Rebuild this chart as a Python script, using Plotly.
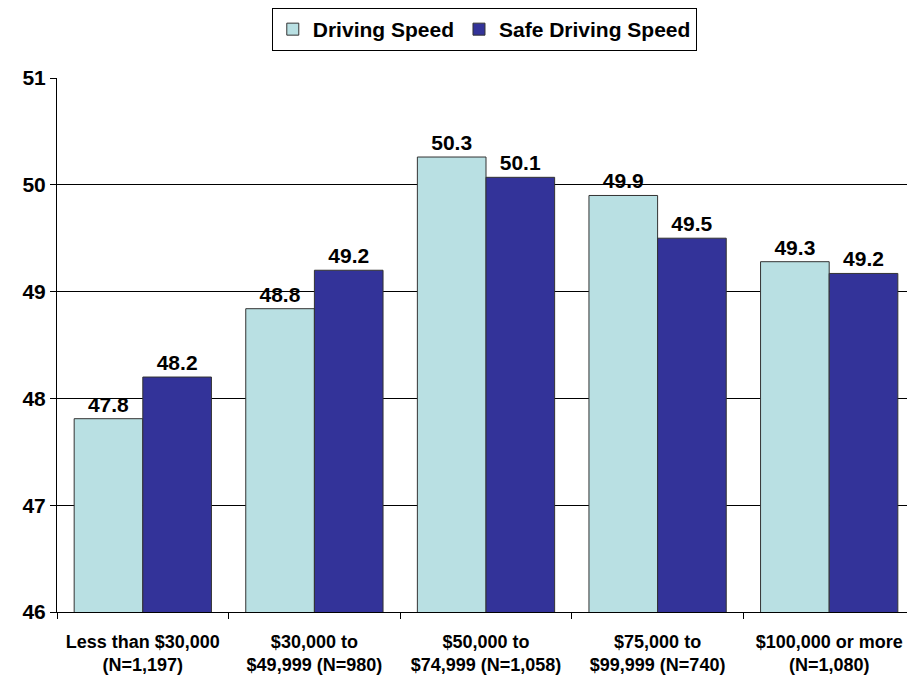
import plotly.graph_objects as go

# income groups (x categories)
categories = [
    'Less than $30,000<br>(N=1,197)',
    '$30,000 to<br>$49,999 (N=980)',
    '$50,000 to<br>$74,999 (N=1,058)',
    '$75,000 to<br>$99,999 (N=740)',
    '$100,000 or more<br>(N=1,080)',
]

driving_speed = [47.81, 48.84, 50.26, 49.90, 49.28]
driving_labels = ['47.8', '48.8', '50.3', '49.9', '49.3']

safe_speed = [48.20, 49.20, 50.07, 49.50, 49.17]
safe_labels = ['48.2', '49.2', '50.1', '49.5', '49.2']

y_ticks = [46, 47, 48, 49, 50, 51]

FONT = 'Liberation Sans, Arial, sans-serif'
LIGHT = '#B9E0E3'
DARK = '#333399'
EDGE = '#333333'

fig = go.Figure()
fig.add_trace(go.Bar(
    x=categories, y=driving_speed, name='<b>Driving Speed</b>',
    text=driving_labels, textposition='outside', cliponaxis=False,
    marker=dict(color=LIGHT, line=dict(color=EDGE, width=1)),
    textfont=dict(family=FONT, size=21, color='black'),
))
fig.add_trace(go.Bar(
    x=categories, y=safe_speed, name='<b>Safe Driving Speed</b>',
    text=safe_labels, textposition='outside', cliponaxis=False,
    marker=dict(color=DARK, line=dict(color=EDGE, width=1)),
    textfont=dict(family=FONT, size=21, color='black'),
))

fig.update_traces(texttemplate='<b>%{text}</b>')

# page body adds an 8px offset, so margins are shifted to compensate
fig.update_layout(
    width=915, height=678,
    margin=dict(l=49, r=8, t=70, b=74, autoexpand=False),
    paper_bgcolor='white', plot_bgcolor='white',
    barmode='group', bargap=0.2, bargroupgap=0,
    font=dict(family=FONT, color='black'),
    showlegend=True,
    legend=dict(
        orientation='h', x=0.498, xanchor='center',
        yref='container', y=1.0, yanchor='top',
        bordercolor='black', borderwidth=1,
        font=dict(family=FONT, size=21, color='black'),
        itemwidth=30, traceorder='normal',
        tracegroupgap=0,
    ),
    xaxis=dict(
        automargin=False,
        showline=True, linecolor='black', linewidth=1,
        ticks='outside', tickson='boundaries', ticklen=6, tickcolor='black',
        tickfont=dict(family=FONT, size=18, color='black'),
        ticklabelstandoff=13,
    ),
    yaxis=dict(
        automargin=False,
        range=[46, 51], tickvals=y_ticks,
        ticktext=[f'<b>{v}</b>' for v in y_ticks],
        showline=True, linecolor='black', linewidth=1,
        showgrid=True, gridcolor='black', gridwidth=1,
        ticks='outside', ticklen=6, tickcolor='black',
        tickfont=dict(family=FONT, size=21, color='black'),
        zeroline=False,
    ),
)

fig.update_xaxes(tickprefix='<b>', ticksuffix='</b>')

fig.write_html('out.html')
